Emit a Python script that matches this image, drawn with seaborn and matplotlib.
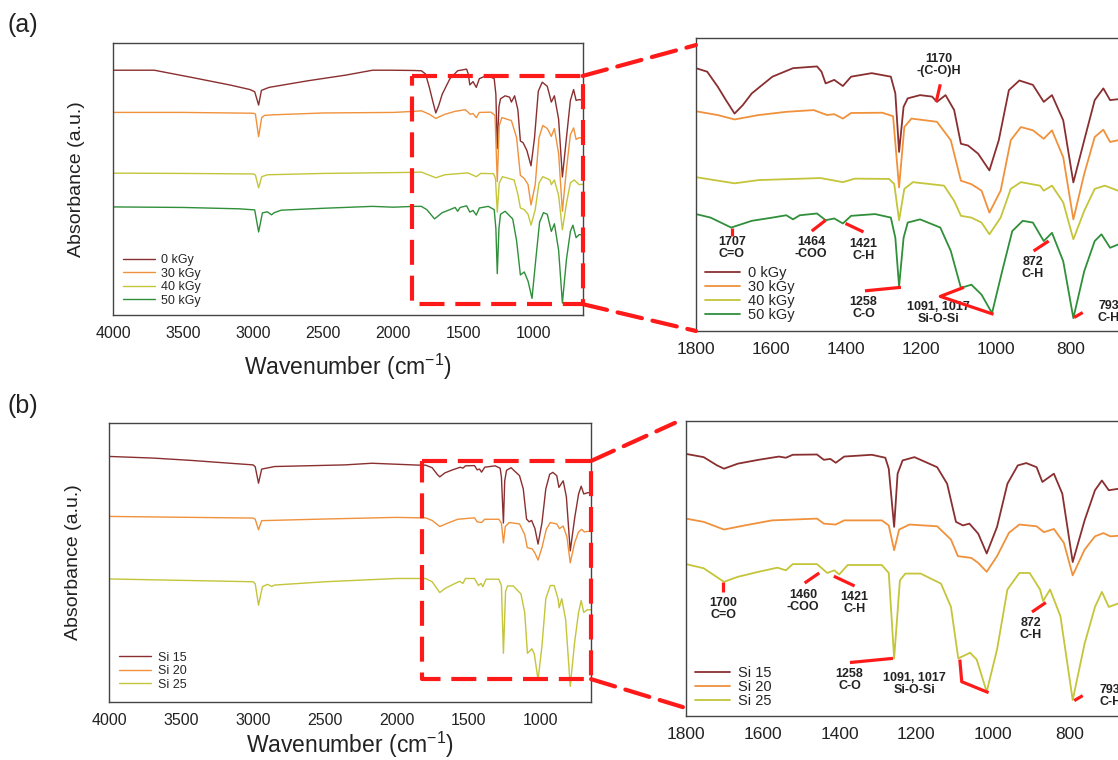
"""
FTIR spectra: (a) irradiation dose series, (b) silicone content series.
Full-range spectra on the left, fingerprint zoom (1800-650 cm-1) on the right.
"""

import matplotlib.pyplot as plt
import pandas as pd
import seaborn as sns
from matplotlib.patches import ConnectionPatch

# ----------------------------------------------------------
# (a) Dose series  (absorbance in arbitrary, offset units)
# ----------------------------------------------------------

DOSE_LABELS = ["0 kGy", "30 kGy", "40 kGy", "50 kGy"]

WN_0KGY = [4000, 3707, 3434, 3160, 3024, 2990, 2962, 2942, 2887, 2613, 2340, 2148, 2012, 1850,
           1800, 1770, 1742, 1720, 1697, 1675, 1651, 1596, 1541, 1477, 1465, 1454, 1431, 1408,
           1386, 1331, 1280, 1268, 1258, 1246, 1235, 1202, 1170, 1157, 1134, 1111, 1093, 1074,
           1047, 1017, 992, 965, 937, 901, 872, 850, 820, 793, 764, 736, 713, 695, 674, 650]
ABS_0KGY = [89.9, 89.9, 87.2, 84.4, 82.8, 82.0, 77.1, 82.5, 83.6, 86.0, 88.1, 89.9, 89.9, 89.8,
            89.7, 88.5, 83.4, 78.8, 74.2, 77.1, 81.1, 86.8, 89.7, 90.3, 88.5, 84.5, 85.7, 83.6,
            86.8, 88.0, 86.8, 81.1, 61.1, 76.5, 79.4, 80.5, 80.0, 78.2, 80.5, 75.4, 63.9, 63.3,
            60.5, 54.8, 65.1, 82.2, 85.5, 84.0, 78.2, 80.5, 71.9, 50.7, 65.1, 78.8, 82.8, 78.8, 79.1, 79.0]

WN_30KGY = [4000, 3500, 3000, 2985, 2962, 2940, 2920, 2870, 2500, 2000, 1850,
            1800, 1742, 1697, 1633, 1559, 1486, 1450, 1431, 1408, 1386, 1303, 1274, 1258, 1244,
            1225, 1157, 1120, 1093, 1065, 1038, 1017, 987, 960, 933, 901, 872, 850, 820, 793,
            764, 736, 713, 695, 674, 650]
ABS_30KGY = [74.4, 74.4, 74.1, 73.8, 65.5, 72.5, 73.3, 73.5, 74.2, 74.4, 74.8,
             75.0, 73.7, 72.2, 73.7, 74.8, 75.4, 73.7, 74.0, 72.5, 74.4, 74.5, 73.3, 49.0, 69.6,
             72.5, 71.4, 65.1, 51.3, 50.1, 47.9, 40.4, 47.9, 65.1, 69.6, 68.5, 65.6, 68.5, 59.3, 38.1,
             53.6, 66.2, 68.7, 64.5, 65.1, 65.0]

WN_40KGY = [4000, 3500, 3000, 2985, 2962, 2940, 2900, 2500, 2000, 1850,
            1800, 1697, 1633, 1468, 1408, 1376, 1285, 1271, 1258, 1244, 1221, 1138, 1111, 1093,
            1065, 1038, 1017, 987, 960, 933, 882, 872, 850, 820, 793, 764, 736, 709, 674, 650]
ABS_40KGY = [52.1, 52.0, 51.8, 51.4, 46.7, 50.8, 51.5, 52.0, 52.3, 52.4,
             52.5, 50.4, 51.5, 52.2, 50.8, 52.0, 51.9, 50.2, 37.8, 48.5, 50.8, 49.6, 44.4, 39.3,
             38.7, 37.0, 33.0, 38.7, 48.5, 50.8, 49.6, 47.9, 49.6, 43.9, 31.3, 41.0, 48.5, 49.6, 47.9, 48.0]

WN_50KGY = [4000, 3500, 3100, 2990, 2962, 2935, 2900, 2870, 2850, 2800, 2500, 2150, 2000, 1850,
            1800, 1761, 1706, 1651, 1596, 1559, 1541, 1523, 1477, 1454, 1431, 1408, 1386, 1322,
            1280, 1268, 1258, 1246, 1235, 1202, 1148, 1120, 1093, 1065, 1038, 1010, 983, 956,
            928, 901, 872, 850, 820, 793, 764, 736, 718, 695, 674, 650]
ABS_50KGY = [39.7, 39.5, 39.0, 38.6, 30.5, 37.5, 37.9, 36.8, 37.6, 38.5, 39.2, 39.9, 39.6, 39.9,
             39.9, 38.7, 35.3, 37.6, 38.7, 39.5, 38.1, 39.5, 40.1, 37.8, 38.4, 36.7, 39.3, 39.9,
             38.7, 31.8, 15.2, 31.8, 37.0, 38.1, 35.3, 27.3, 14.7, 15.8, 12.4, 6.1, 20.4, 34.1,
             37.6, 37.0, 30.7, 33.5, 23.8, 4.4, 20.4, 30.7, 33.0, 28.4, 29.5, 29.5]

# ----------------------------------------------------------
# (b) Silicone content series (zoom-panel units)
# ----------------------------------------------------------

SI_LABELS = ["Si 15", "Si 20", "Si 25"]

WN_SI15 = [4000, 3693, 3427, 3160, 3000, 2985, 2962, 2940, 2850, 2360, 2173, 1850,
           1800, 1754, 1719, 1701, 1665, 1611, 1558, 1540, 1522, 1459, 1441, 1424, 1410, 1388,
           1316, 1281, 1272, 1258, 1249, 1236, 1205, 1146, 1120, 1097, 1079, 1062, 1039, 1017,
           990, 963, 936, 914, 887, 872, 842, 820, 793, 762, 735, 717, 699, 674, 650]
ABS_SI15 = [92.4, 91.7, 90.7, 89.5, 88.8, 88.0, 81.0, 87.0, 88.1, 88.8, 89.5, 88.7,
            88.7, 87.6, 84.8, 83.7, 85.4, 86.7, 87.8, 87.4, 88.4, 88.5, 86.7, 87.0, 85.7, 87.8,
            88.4, 87.4, 83.7, 64.0, 82.0, 86.5, 87.6, 84.2, 78.6, 65.7, 64.5, 65.1, 61.7, 55.0,
            64.0, 78.6, 84.8, 85.6, 84.2, 79.2, 82.0, 75.2, 52.1, 66.2, 76.4, 79.7, 76.4, 76.9, 77.0]

WN_SI20 = [4000, 3000, 2985, 2962, 2940, 2500, 2000, 1850,
           1800, 1754, 1701, 1647, 1576, 1459, 1441, 1410, 1388, 1290, 1272, 1258, 1245, 1218,
           1146, 1110, 1092, 1057, 1039, 1017, 990, 959, 932, 887, 868, 842, 816, 793, 762,
           735, 713, 695, 674, 650]
ABS_SI20 = [67.4, 66.7, 66.2, 61.7, 65.6, 66.3, 67.0, 66.8,
            66.8, 65.7, 63.1, 64.5, 66.2, 66.8, 65.1, 64.8, 66.2, 66.2, 64.5, 56.1, 63.1, 64.8,
            64.2, 59.7, 54.1, 53.5, 51.8, 48.8, 54.1, 62.0, 64.8, 64.2, 62.2, 63.3, 58.6, 47.6, 56.3,
            60.8, 61.9, 60.8, 61.0, 61.0]

WN_SI25 = [4000, 3000, 2985, 2962, 2935, 2900, 2870, 2850, 2500, 2000, 1850,
           1800, 1754, 1701, 1665, 1611, 1562, 1540, 1522, 1459, 1432, 1414, 1401, 1379, 1290,
           1272, 1258, 1243, 1229, 1189, 1136, 1110, 1091, 1060, 1043, 1017, 990, 963, 932, 905,
           878, 870, 852, 825, 793, 762, 735, 717, 699, 674, 650]
ABS_SI25 = [51.2, 50.0, 49.2, 40.0, 47.9, 48.9, 48.0, 48.6, 50.0, 51.4, 51.4,
            51.4, 50.0, 45.4, 47.1, 48.8, 50.2, 49.3, 51.4, 51.4, 48.4, 49.3, 47.9, 51.1, 51.1,
            48.4, 19.5, 45.9, 48.2, 48.2, 44.8, 36.9, 19.5, 21.4, 19.1, 8.2, 22.5, 42.8, 48.4, 48.4,
            42.8, 38.9, 42.8, 33.8, 5.4, 24.5, 36.9, 42.0, 36.9, 38.1, 38.0]

# full-range panel (b) is drawn with a compressed scale and its own offsets
SI_FULL_SCALE = 0.84
SI_FULL_SHIFT = [10.4, 9.9, 1.1]

# ----------------------------------------------------------
# Peak assignments (zoom panels)
# ----------------------------------------------------------

PEAKS_A_TEXT = ["1170\n-(C-O)H", "1707\nC=O", "1464\n-COO", "1421\nC-H", "872\nC-H",
                "1258\nC-O", "1091, 1017\nSi-O-Si", "793\nC-H"]
PEAKS_A_TEXT_XY = [(1152, 90.7), (1704, 28.3), (1493, 28.4), (1353, 27.8), (902, 21.5),
                   (1353, 8.0), (1152, 6.1), (699, 6.6)]
PEAKS_A_LINES = [[(1148, 84.2), (1159, 78.2)],
                 [(1704, 32.4), (1704, 35.3)],
                 [(1491, 34.1), (1454, 37.8)],
                 [(1401, 36.7), (1353, 33.8)],
                 [(899, 27.3), (859, 30.7)],
                 [(1349, 13.7), (1253, 14.9)],
                 [(1085, 14.9), (1148, 11.8), (1006, 5.7)],
                 [(791, 4.6), (768, 6.3)]]

PEAKS_B_TEXT = ["1700\nC=O", "1460\n-COO", "1421\nC-H", "872\nC-H", "1258\nC-O",
                "1091, 1017\nSi-O-Si", "793\nC-H"]
PEAKS_B_TEXT_XY = [(1703, 36.1), (1495, 38.9), (1361, 38.1), (903, 29.3), (1374, 12.2),
                   (1205, 10.8), (695, 6.8)]
PEAKS_B_LINES = [[(1703, 42.0), (1703, 45.4)],
                 [(1491, 45.0), (1453, 48.4)],
                 [(1415, 47.3), (1361, 44.0)],
                 [(899, 35.2), (863, 38.4)],
                 [(1373, 18.1), (1261, 19.5)],
                 [(1087, 19.1), (1082, 11.6), (1012, 7.9)],
                 [(789, 5.2), (767, 6.9)]]

# zoom window drawn on the full-range panels: (left wn, top, bottom)
ZOOM_BOX_A = (1870, 87.8, 4.0)
ZOOM_BOX_B = (1825, 86.4, 8.2)

COLORS_A = ["#8a2f30", "#f0913c", "#c4c53a", "#2f8f3a"]
COLORS_B = ["#8a2f30", "#f0913c", "#c4c53a"]
RED = "#ff1a1a"
TEXT = "#222222"


def long_frame(labels, wns, values, scale=1.0, shifts=None):
    frames = []
    for i, (name, wn, ab) in enumerate(zip(labels, wns, values)):
        shift = 0.0 if shifts is None else shifts[i]
        frames.append(pd.DataFrame({
            "wavenumber": wn,
            "absorbance": [scale * v + shift for v in ab],
            "sample": name,
        }))
    return pd.concat(frames, ignore_index=True)


def draw_spectra(ax, data, labels, colors, lw):
    for name, color in zip(labels, colors):
        sns.lineplot(
            data=data[data["sample"] == name],
            x="wavenumber",
            y="absorbance",
            color=color,
            linewidth=lw,
            estimator=None,
            label=name,
            ax=ax,
        )
    ax.set_ylim(0, 100)
    ax.set_yticks([])
    ax.set_xlabel("")
    ax.set_ylabel("")
    for sp in ax.spines.values():
        sp.set_color("#444444")
        sp.set_linewidth(1.0)
        sp.set_visible(True)


def full_panel(ax, data, labels, colors, box, legend_anchor, xlabelpad):
    draw_spectra(ax, data, labels, colors, 1.0)
    ax.set_xlim(4000, 648)
    ax.set_xticks([4000, 3500, 3000, 2500, 2000, 1500, 1000])
    ax.tick_params(axis="x", direction="out", length=4, width=0.8,
                   colors="#444444", labelcolor=TEXT, labelsize=11.5, pad=4)
    ax.set_xlabel("Wavenumber (cm$^{-1}$)", fontsize=16.5, color=TEXT, labelpad=xlabelpad)
    ax.set_ylabel("Absorbance (a.u.)", fontsize=14, color=TEXT, labelpad=20)
    ax.legend(loc="lower left", bbox_to_anchor=legend_anchor, frameon=False,
              fontsize=9, handlelength=2.6, handletextpad=0.5, labelspacing=0.12,
              borderpad=0, borderaxespad=0)

    x0, top, bottom = box
    x1 = ax.get_xlim()[1]
    ax.plot([x0, x1, x1, x0, x0], [top, top, bottom, bottom, top], color=RED,
            lw=3, linestyle=(0, (6, 2.6)), clip_on=False, zorder=5)


def zoom_panel(ax, data, labels, colors, texts, text_xy, lines, legend_anchor):
    draw_spectra(ax, data, labels, colors, 1.3)
    ax.set_xlim(1800, 650)
    ax.set_xticks([1800, 1600, 1400, 1200, 1000, 800])
    ax.tick_params(axis="x", direction="out", length=4, width=0.8,
                   colors="#444444", labelcolor=TEXT, labelsize=12.5, pad=4)
    ax.legend(loc="lower left", bbox_to_anchor=legend_anchor, frameon=False,
              fontsize=10.5, handlelength=2.4, handletextpad=0.55, labelspacing=0.0,
              borderpad=0, borderaxespad=0)

    for txt, (x, y) in zip(texts, text_xy):
        ax.text(x, y, txt, ha="center", va="center", fontsize=9,
                fontweight="bold", color=TEXT, linespacing=1.0)
    for seg in lines:
        ax.plot([p[0] for p in seg], [p[1] for p in seg], color=RED, lw=2.3,
                solid_capstyle="butt", zorder=6)


def connect(fig, ax_full, ax_zoom, box, top_end, bottom_end):
    x1 = ax_full.get_xlim()[1]
    for y, end in [(box[1], top_end), (box[2], bottom_end)]:
        con = ConnectionPatch(
            xyA=(x1, y), coordsA=ax_full.transData,
            xyB=end, coordsB=ax_zoom.transAxes,
            color=RED, lw=3, linestyle=(0, (6, 2.6)),
        )
        fig.add_artist(con)


def main():
    sns.set_theme(style="white")
    plt.rcParams["font.family"] = ["Liberation Sans", "DejaVu Sans"]
    plt.rcParams["mathtext.default"] = "regular"

    fig = plt.figure(figsize=(11.18, 7.6), dpi=100)

    ax_a_full = fig.add_axes([0.1013, 0.5855, 0.4199, 0.3583])
    ax_a_zoom = fig.add_axes([0.6225, 0.5645, 0.3855, 0.3855])
    ax_b_full = fig.add_axes([0.0978, 0.0763, 0.4309, 0.3671])
    ax_b_zoom = fig.add_axes([0.6136, 0.0579, 0.3950, 0.3888])

    dose = long_frame(DOSE_LABELS,
                      [WN_0KGY, WN_30KGY, WN_40KGY, WN_50KGY],
                      [ABS_0KGY, ABS_30KGY, ABS_40KGY, ABS_50KGY])
    si_wn = [WN_SI15, WN_SI20, WN_SI25]
    si_abs = [ABS_SI15, ABS_SI20, ABS_SI25]
    si_zoom = long_frame(SI_LABELS, si_wn, si_abs)
    si_full = long_frame(SI_LABELS, si_wn, si_abs, SI_FULL_SCALE, SI_FULL_SHIFT)

    full_panel(ax_a_full, dose, DOSE_LABELS, COLORS_A, ZOOM_BOX_A, (0.02, 0.03), 8)
    zoom_panel(ax_a_zoom, dose, DOSE_LABELS, COLORS_A,
               PEAKS_A_TEXT, PEAKS_A_TEXT_XY, PEAKS_A_LINES, (0.021, 0.03))
    full_panel(ax_b_full, si_full, SI_LABELS, COLORS_B, ZOOM_BOX_B, (0.02, 0.04), 1.5)
    zoom_panel(ax_b_zoom, si_zoom, SI_LABELS, COLORS_B,
               PEAKS_B_TEXT, PEAKS_B_TEXT_XY, PEAKS_B_LINES, (0.02, 0.026))

    connect(fig, ax_a_full, ax_a_zoom, ZOOM_BOX_A, (0.0, 0.976), (0.0, 0.0))
    connect(fig, ax_b_full, ax_b_zoom, ZOOM_BOX_B, (-0.025, 0.992), (-0.007, 0.03))

    fig.text(0.007, 1 - 25 / 760, "(a)", fontsize=18, color=TEXT, va="center")
    fig.text(0.007, 1 - 406 / 760, "(b)", fontsize=18, color=TEXT, va="center")

    fig.savefig("out.png", dpi=100)
    plt.close(fig)


if __name__ == "__main__":
    main()
